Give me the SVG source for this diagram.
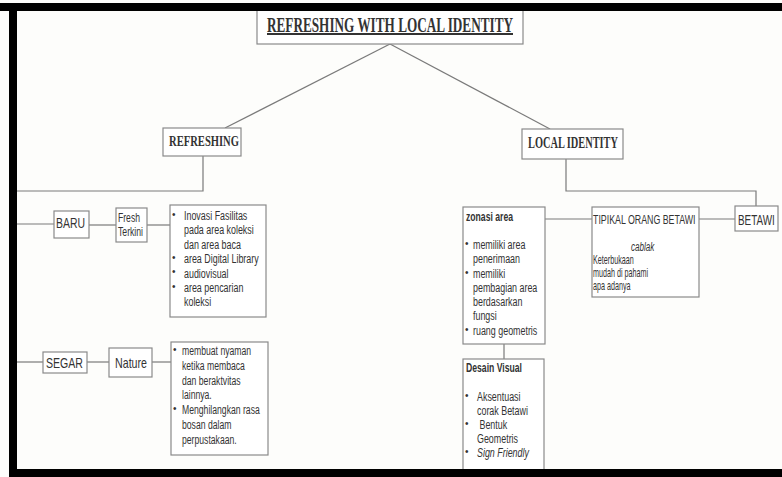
<svg xmlns="http://www.w3.org/2000/svg" width="782" height="477" viewBox="0 0 782 477">
<style>
.box{fill:#ffffff;stroke:#8a8a8a;stroke-width:1.2}
.ln{fill:none;stroke:#7a7a7a;stroke-width:1.2}
.serif{font-family:"Liberation Serif","Times New Roman",serif;font-weight:bold;fill:#333}
.lab{font-family:"Liberation Sans",Arial,sans-serif;font-size:15px;fill:#333}
.t{font-family:"Liberation Sans",Arial,sans-serif;font-size:13.5px;fill:#333}
.s{font-family:"Liberation Sans",Arial,sans-serif;font-size:12px;fill:#333}
.b{font-family:"Liberation Sans",Arial,sans-serif;font-size:13px;font-weight:bold;fill:#333}
.bul{font-family:"Liberation Sans",Arial,sans-serif;font-size:10px;fill:#333}
</style>
<rect x="0" y="0" width="782" height="477" fill="#fdfdfb"/>

<g id="connectors">
<path class="ln" d="M390,44 L225,128"/>
<path class="ln" d="M390,44 L550,129"/>
<path class="ln" d="M203,156 V191 H12"/>
<path class="ln" d="M14,191 V362"/>
<path class="ln" d="M12,224 H54"/>
<path class="ln" d="M89,225 H116"/>
<path class="ln" d="M147,225 H170"/>
<path class="ln" d="M12,362 H43"/>
<path class="ln" d="M87,362 H109"/>
<path class="ln" d="M152,362 H171"/>
<path class="ln" d="M566,159 V191 H756 V206"/>
<path class="ln" d="M699,219 H735"/>
<path class="ln" d="M545,219 H592"/>
<path class="ln" d="M504,344 V359"/>
</g>

<g id="title">
<rect class="box" x="257" y="9" width="266" height="35"/>
<text class="serif" x="267" y="32" font-size="20" textLength="246" lengthAdjust="spacingAndGlyphs" text-decoration="underline">REFRESHING WITH LOCAL IDENTITY</text>
</g>

<g id="refreshing">
<rect class="box" x="163" y="128" width="78" height="28"/>
<text class="serif" x="169" y="146" font-size="15" textLength="70" lengthAdjust="spacingAndGlyphs">REFRESHING</text>
</g>

<g id="local-identity">
<rect class="box" x="522" y="129" width="101" height="30"/>
<text class="serif" x="528" y="148" font-size="16" textLength="90" lengthAdjust="spacingAndGlyphs">LOCAL IDENTITY</text>
</g>

<g id="baru">
<rect class="box" x="54" y="211" width="35" height="27"/>
<text class="lab" x="56" y="228" textLength="29" lengthAdjust="spacingAndGlyphs">BARU</text>
</g>

<g id="fresh">
<rect class="box" x="116" y="208" width="31" height="34"/>
<text class="t" x="118" y="222" textLength="22" lengthAdjust="spacingAndGlyphs">Fresh</text>
<text class="t" x="118" y="236" textLength="25" lengthAdjust="spacingAndGlyphs">Terkini</text>
</g>

<g id="baru-detail">
<rect class="box" x="170" y="205" width="96" height="112"/>
<text class="bul" x="172" y="218">•</text>
<text class="bul" x="172" y="261">•</text>
<text class="bul" x="172" y="275">•</text>
<text class="bul" x="172" y="290">•</text>
<text class="t" transform="translate(184,220) scale(0.66,1)"><tspan x="0" y="0">Inovasi Fasilitas</tspan><tspan x="0" y="14.4">pada area koleksi</tspan><tspan x="0" y="28.8">dan area baca</tspan><tspan x="0" y="43.2">area Digital Library</tspan><tspan x="0" y="57.6">audiovisual</tspan><tspan x="0" y="72">area pencarian</tspan><tspan x="0" y="86.4">koleksi</tspan></text>
</g>

<g id="segar">
<rect class="box" x="43" y="352" width="44" height="21"/>
<text class="lab" x="46" y="368" textLength="37" lengthAdjust="spacingAndGlyphs">SEGAR</text>
</g>

<g id="nature">
<rect class="box" x="109" y="348" width="43" height="29"/>
<text class="lab" x="115" y="368" textLength="32" lengthAdjust="spacingAndGlyphs">Nature</text>
</g>

<g id="segar-detail">
<rect class="box" x="171" y="342" width="97" height="113"/>
<text class="bul" x="173" y="353">•</text>
<text class="bul" x="173" y="412">•</text>
<text class="t" transform="translate(182,355) scale(0.64,1)"><tspan x="0" y="0">membuat nyaman</tspan><tspan x="0" y="14.8">ketika membaca</tspan><tspan x="0" y="29.6">dan beraktvitas</tspan><tspan x="0" y="44.4">lainnya.</tspan><tspan x="0" y="59.2">Menghilangkan rasa</tspan><tspan x="0" y="74">bosan dalam</tspan><tspan x="0" y="88.8">perpustakaan.</tspan></text>
</g>

<g id="betawi">
<rect class="box" x="735" y="206" width="43" height="25"/>
<text class="lab" transform="translate(738,225) scale(0.66,1)" x="0" y="0" font-size="14">BETAWI</text>
</g>

<g id="tipikal">
<rect class="box" x="592" y="207" width="107" height="90"/>
<text class="t" transform="translate(593,224) scale(0.654,1)" x="0" y="0">TIPIKAL ORANG BETAWI</text>
<text class="t" transform="translate(631,251) scale(0.6,1)" x="0" y="0" font-style="italic">cablak</text>
<text class="s" transform="translate(593,264) scale(0.6,1)"><tspan x="0" y="0">Keterbukaan</tspan><tspan x="0" y="13.5">mudah di pahami</tspan><tspan x="0" y="26">apa adanya</tspan></text>
</g>

<g id="zonasi">
<rect class="box" x="463" y="207" width="82" height="137"/>
<text class="b" x="466" y="221" textLength="47" lengthAdjust="spacingAndGlyphs">zonasi area</text>
<text class="bul" x="465" y="247">•</text>
<text class="bul" x="465" y="276">•</text>
<text class="bul" x="465" y="333">•</text>
<text class="t" transform="translate(473,249) scale(0.66,1)"><tspan x="0" y="0">memiliki area</tspan><tspan x="0" y="14.3">penerimaan</tspan><tspan x="0" y="28.6">memiliki</tspan><tspan x="0" y="42.9">pembagian area</tspan><tspan x="0" y="57.2">berdasarkan</tspan><tspan x="0" y="71.5">fungsi</tspan><tspan x="0" y="85.8">ruang geometris</tspan></text>
</g>

<g id="desain">
<rect class="box" x="463" y="359" width="81" height="120"/>
<text class="b" x="466" y="372" textLength="56" lengthAdjust="spacingAndGlyphs">Desain Visual</text>
<text class="bul" x="465" y="399">•</text>
<text class="bul" x="465" y="427">•</text>
<text class="bul" x="465" y="455">•</text>
<text class="t" transform="translate(477,401) scale(0.66,1)"><tspan x="0" y="0">Aksentuasi</tspan><tspan x="0" y="14">corak Betawi</tspan><tspan x="0" y="28"> Bentuk</tspan><tspan x="0" y="42">Geometris</tspan><tspan x="0" y="56" font-style="italic">Sign Friendly</tspan></text>
</g>

<g id="frame">
<rect x="0" y="3" width="782" height="8" fill="#000"/>
<rect x="9" y="3" width="8" height="474" fill="#000"/>
<rect x="9" y="469" width="773" height="8" fill="#000"/>
</g>
</svg>
